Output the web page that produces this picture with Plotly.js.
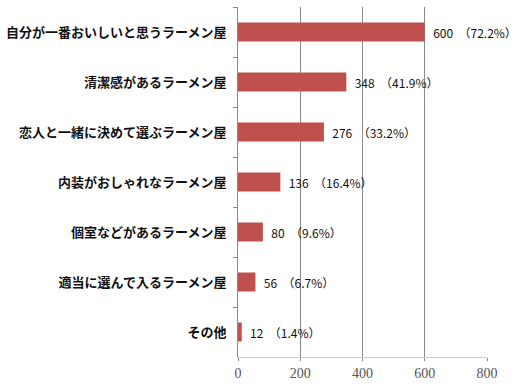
<!DOCTYPE html>
<html>
<head>
<meta charset="utf-8">
<script src="https://cdn.plot.ly/plotly-3.0.1.min.js"></script>
<style>html,body{margin:0;padding:0;background:#fff;}#chart{width:520px;height:388px;}</style>
</head>
<body>
<div id="chart"></div>
<script>
const categories = [
  "自分が一番おいしいと思うラーメン屋",
  "清潔感があるラーメン屋",
  "恋人と一緒に決めて選ぶラーメン屋",
  "内装がおしゃれなラーメン屋",
  "個室などがあるラーメン屋",
  "適当に選んで入るラーメン屋",
  "その他"
];
const counts = [600, 348, 276, 136, 80, 56, 12];
const percents = ["72.2%", "41.9%", "33.2%", "16.4%", "9.6%", "6.7%", "1.4%"];
const xTicks = [0, 200, 400, 600, 800];

const labels = counts.map((c, i) => "\u00a0\u00a0" + c + "\u00a0\u00a0（" + percents[i] + "）");

const trace = {
  type: "bar",
  orientation: "h",
  x: counts,
  y: categories,
  text: labels,
  textposition: "outside",
  cliponaxis: false,
  textfont: {family: "Noto Sans CJK JP, sans-serif", size: 12, color: "#111"},
  marker: {color: "#C0504D"},
  hoverinfo: "none"
};

const layout = {
  width: 520, height: 388,
  margin: {l: 238, r: 33, t: 7, b: 31},
  paper_bgcolor: "#fff", plot_bgcolor: "#fff",
  showlegend: false,
  bargap: 0.62,
  xaxis: {
    range: [0, 800],
    tickvals: xTicks,
    ticktext: xTicks.map(String),
    showgrid: true, gridcolor: "#8a8a8a", gridwidth: 1,
    zeroline: false,
    showline: true, linecolor: "#cfcfcf", linewidth: 1,
    ticks: "outside", ticklen: 3, tickcolor: "#8a8a8a",
    tickfont: {family: "Liberation Serif, serif", size: 14, color: "#555"},
    fixedrange: true
  },
  yaxis: {
    type: "category",
    autorange: "reversed",
    tickson: "boundaries",
    ticks: "outside", ticklen: 4, tickcolor: "#8a8a8a",
    showline: true, linecolor: "#8a8a8a", linewidth: 1,
    showgrid: false, zeroline: false,
    ticklabelstandoff: 8,
    tickfont: {family: "Noto Sans CJK JP, sans-serif", size: 13, color: "#111", weight: "bold"},
    fixedrange: true
  }
};

Plotly.newPlot("chart", [trace], layout, {staticPlot: true, displayModeBar: false});
</script>
</body>
</html>
